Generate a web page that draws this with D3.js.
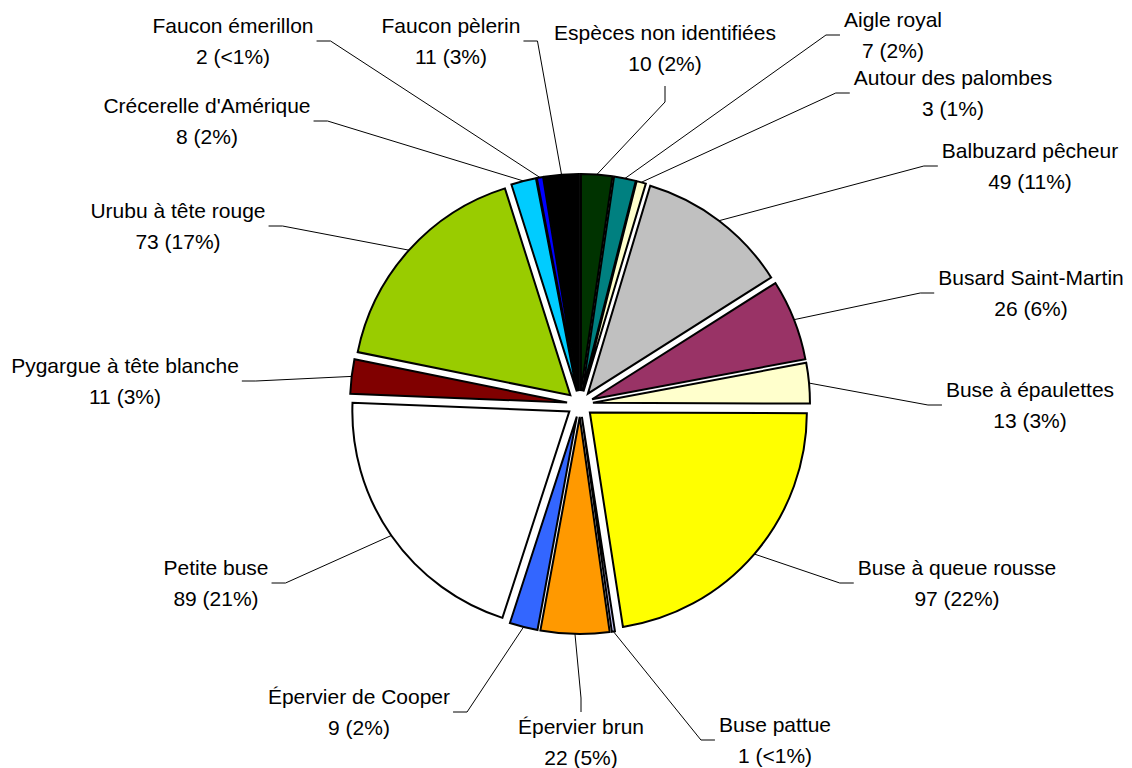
<!DOCTYPE html>
<html>
<head>
<meta charset="utf-8">
<script src="https://cdn.jsdelivr.net/npm/d3@7"></script>
<style>
  html, body { margin: 0; padding: 0; background: #fff; }
  svg text { font-family: Arial, "Liberation Sans", sans-serif; font-size: 21px; fill: #000; }
</style>
</head>
<body>
<div id="chart"></div>
<script>
// data, clockwise from 12 o'clock
var species = ["Espèces non identifiées", "Aigle royal", "Autour des palombes", "Balbuzard pêcheur",
  "Busard Saint-Martin", "Buse à épaulettes", "Buse à queue rousse", "Buse pattue",
  "Épervier brun", "Épervier de Cooper", "Petite buse", "Pygargue à tête blanche",
  "Urubu à tête rouge", "Crécerelle d'Amérique", "Faucon émerillon", "Faucon pèlerin"];
var counts = [10, 7, 3, 49, 26, 13, 97, 1, 22, 9, 89, 11, 73, 8, 2, 11];
var pctLabels = ["2%", "2%", "1%", "11%", "6%", "3%", "22%", "<1%", "5%", "2%", "21%", "3%", "17%", "2%", "<1%", "3%"];

// styling / layout
var colors = ["#003300", "#008080", "#ffffcc", "#c0c0c0", "#993366", "#ffffcc", "#ffff00", "#ccccff",
  "#ff9900", "#3366ff", "#ffffff", "#800000", "#99cc00", "#00ccff", "#0000ff", "#000000"];
// label block centre x, centre y, side where the leader attaches
var labelPos = [[665, 48, "b"], [893, 35, "l"], [953, 93, "l"], [1030, 166, "l"],
  [1031, 293, "l"], [1030, 405, "l"], [957, 583, "l"], [775, 740, "l"],
  [581, 742, "t"], [359, 712, "r"], [216, 583, "r"], [125, 381, "r"],
  [178, 226, "r"], [207, 121, "r"], [233, 41, "r"], [451, 41, "r"]];

var W = 1132, H = 768;
var cx = 580, cy = 404, R = 217, EXPLODE = 13;

var rows = species.map(function(s, i) { return { name: s, v: counts[i], pct: pctLabels[i], i: i }; });

var svg = d3.select("#chart").append("svg")
  .attr("width", W).attr("height", H);

var pie = d3.pie().sort(null).value(function(d) { return d.v; });
var arcs = pie(rows);
var arc = d3.arc().innerRadius(0).outerRadius(R);

function mid(d) { return (d.startAngle + d.endAngle) / 2; }

var g = svg.append("g").attr("transform", "translate(" + cx + "," + cy + ")");

g.selectAll("path.slice")
  .data(arcs)
  .enter().append("path")
    .attr("class", "slice")
    .attr("d", arc)
    .attr("transform", function(d) {
      var a = mid(d);
      return "translate(" + (EXPLODE * Math.sin(a)) + "," + (-EXPLODE * Math.cos(a)) + ")";
    })
    .attr("fill", function(d) { return colors[d.data.i]; })
    .attr("stroke", "#000")
    .attr("stroke-width", 2)
    .attr("stroke-linejoin", "miter");

// labels
var labels = svg.append("g").attr("class", "labels")
  .selectAll("text")
  .data(arcs)
  .enter().append("text")
    .attr("text-anchor", "middle");

labels.each(function(d) {
  var p = labelPos[d.data.i];
  var t = d3.select(this);
  t.append("tspan").attr("x", p[0]).attr("y", p[1] - 8).text(d.data.name);
  t.append("tspan").attr("x", p[0]).attr("y", p[1] + 23).text(d.data.v + " (" + d.data.pct + ")");
});

// leader lines
var leaders = [];
labels.each(function(d) {
  var p = labelPos[d.data.i];
  var w = 0;
  d3.select(this).selectAll("tspan").each(function() {
    w = Math.max(w, this.getComputedTextLength());
  });
  var a = mid(d);
  var start = [cx + (R + EXPLODE) * Math.sin(a), cy - (R + EXPLODE) * Math.cos(a)];
  var near, far;
  if (p[2] === "l") { near = [p[0] - w / 2 - 4, p[1]]; far = [near[0] - 14, p[1]]; }
  else if (p[2] === "r") { near = [p[0] + w / 2 + 3, p[1]]; far = [near[0] + 14, p[1]]; }
  else if (p[2] === "b") { near = [p[0], p[1] + 38]; far = [p[0], p[1] + 54]; }
  else { near = [p[0], p[1] - 30]; far = [p[0], p[1] - 44]; }
  leaders.push([start, far, near]);
});

svg.insert("g", ".labels").attr("class", "leaders")
  .selectAll("path")
  .data(leaders)
  .enter().append("path")
    .attr("d", d3.line())
    .attr("fill", "none")
    .attr("stroke", "#000")
    .attr("stroke-width", 1);
</script>
</body>
</html>
